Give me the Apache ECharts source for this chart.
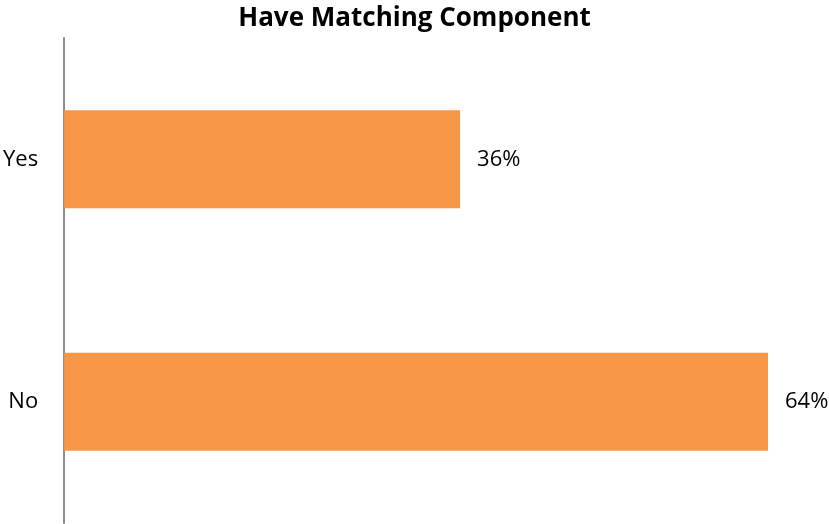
<!DOCTYPE html>
<html>
<head>
<meta charset="utf-8">
<script src="https://cdn.jsdelivr.net/npm/echarts@6/dist/echarts.min.js"></script>
<style>
  html, body { margin: 0; padding: 0; background: #fff; }
  #chart { width: 829px; height: 524px; }
</style>
</head>
<body>
<div id="chart"></div>
<script>
// Share of items that have a matching component
const categories = ['Yes', 'No'];
const shares = [36, 64];
const titleText = 'Have Matching Component';

const chart = echarts.init(document.getElementById('chart'), null, { renderer: 'canvas' });

chart.setOption({
  animation: false,
  backgroundColor: '#ffffff',
  title: {
    text: titleText,
    left: 'center',
    top: 1,
    textStyle: {
      fontFamily: 'Open Sans',
      fontWeight: 'bold',
      fontSize: 26,
      color: '#000000'
    }
  },
  grid: {
    left: 64,
    top: 38,
    width: 715,
    bottom: 1,
    containLabel: false
  },
  xAxis: {
    type: 'value',
    min: 0,
    max: 65,
    show: false
  },
  yAxis: {
    type: 'category',
    data: categories,
    inverse: true,
    axisLine: { show: true, lineStyle: { color: '#8c8c8c', width: 2 } },
    axisTick: { show: false },
    axisLabel: {
      margin: 26,
      fontFamily: 'Open Sans',
      fontSize: 22,
      color: '#000000'
    }
  },
  series: [{
    type: 'bar',
    data: shares,
    barWidth: 98,
    itemStyle: { color: '#F79646' },
    label: {
      show: true,
      position: 'right',
      distance: 17,
      formatter: p => p.value + '%',
      fontFamily: 'Open Sans',
      fontSize: 22,
      color: '#000000'
    }
  }]
});
</script>
</body>
</html>
